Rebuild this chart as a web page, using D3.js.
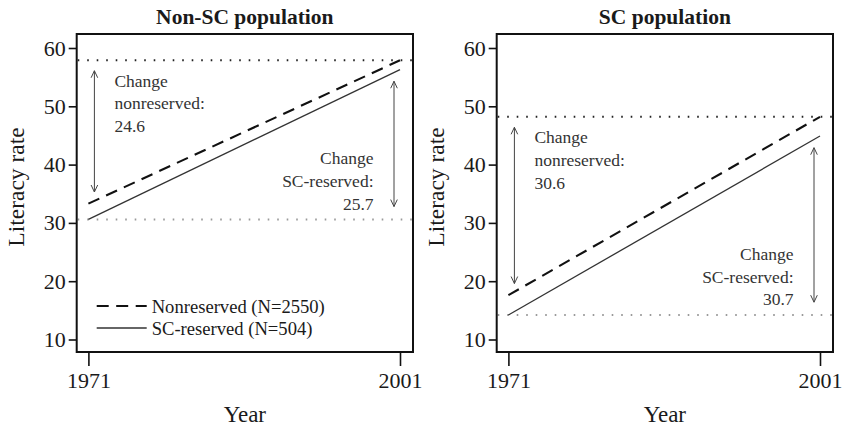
<!DOCTYPE html>
<html>
<head>
<meta charset="utf-8">
<script src="https://cdn.jsdelivr.net/npm/d3@7"></script>
<style>
  html, body { margin: 0; padding: 0; background: #ffffff; }
  svg { display: block; font-family: "Liberation Serif", "DejaVu Serif", serif; }
</style>
</head>
<body>
<svg id="chart" width="846" height="426"></svg>
<script>
// Literacy rate change 1971–2001, by constituency reservation status
const years = [1971, 2001];
const panelTitles = ["Non-SC population", "SC population"];
const nonreserved = [[33.3, 57.9], [17.6, 48.2]];   // per panel: [1971, 2001]
const scReserved  = [[30.6, 56.3], [14.2, 44.9]];
const changeNonreserved = ["24.6", "30.6"];
const changeSCReserved  = ["25.7", "30.7"];
const yTicks = [10, 20, 30, 40, 50, 60];
const xTicks = [1971, 2001];
const legendLabels = ["Nonreserved (N=2550)", "SC-reserved (N=504)"];

const svg = d3.select("#chart");
const frameTop = 34, frameBottom = 352, frameWidth = 336.3;
const frameLefts = [76.7, 496.7];
const ink = "#1a1a1a";

const y = d3.scaleLinear().domain([10, 60]).range([339.5, 48]);

// open "V" arrowhead at (x, y) pointing up (dir=-1) or down (dir=1)
function head(g, x, yy, dir) {
  g.append("path")
    .attr("d", `M${x - 3.3},${yy - dir * 7} L${x},${yy} L${x + 3.3},${yy - dir * 7}`)
    .attr("fill", "none").attr("stroke", "#444").attr("stroke-width", 1);
}

function doubleArrow(g, x, y1, y2) {
  g.append("line").attr("x1", x).attr("x2", x).attr("y1", y1).attr("y2", y2)
    .attr("stroke", "#444").attr("stroke-width", 1);
  head(g, x, y1, -1);
  head(g, x, y2, 1);
}

panelTitles.forEach((title, i) => {
  const left = frameLefts[i], right = left + frameWidth;
  const x = d3.scaleLinear().domain(years).range([left + 11.7, right - 13]);
  const g = svg.append("g");

  // title
  g.append("text").attr("x", (left + right) / 2).attr("y", 24)
    .attr("text-anchor", "middle").attr("font-weight", "bold")
    .attr("font-size", 21.5).attr("fill", ink).text(title);

  // reference levels: nonreserved 2001 and SC-reserved 1971
  g.append("line").attr("x1", left + 1).attr("x2", right - 1)
    .attr("y1", y(nonreserved[i][1])).attr("y2", y(nonreserved[i][1]))
    .attr("stroke", "#222").attr("stroke-width", 2)
    .attr("stroke-dasharray", "1.6,7.9").attr("stroke-linecap", "butt");
  g.append("line").attr("x1", left + 1).attr("x2", right - 1)
    .attr("y1", y(scReserved[i][0])).attr("y2", y(scReserved[i][0]))
    .attr("stroke", "#9a9a9a").attr("stroke-width", 2)
    .attr("stroke-dasharray", "1.6,7.9");

  // series lines
  const line = d3.line().x((d, k) => x(years[k])).y(d => y(d));
  g.append("path").datum(nonreserved[i]).attr("d", line)
    .attr("fill", "none").attr("stroke", "#111").attr("stroke-width", 2.1)
    .attr("stroke-dasharray", "12,7.5");
  g.append("path").datum(scReserved[i]).attr("d", line)
    .attr("fill", "none").attr("stroke", "#333").attr("stroke-width", 1.3);

  // change arrows
  const xa1 = x(years[0]) + 6, xa2 = x(years[1]) - 6;
  doubleArrow(g, xa1, y(nonreserved[i][1] - 1.8), y(nonreserved[i][0] + 2));
  doubleArrow(g, xa2, y(scReserved[i][1] - 2), y(scReserved[i][0] + 2.2));

  // change annotations
  const lh = 22.8;
  const t1 = g.append("text").attr("font-size", 17.5).attr("fill", "#333")
    .attr("text-anchor", "start");
  ["Change", "nonreserved:", changeNonreserved[i]].forEach((s, k) => {
    t1.append("tspan").attr("x", xa1 + 20)
      .attr("y", y(nonreserved[i][1]) + 20.5 + k * lh).attr("dy", "0.33em").text(s);
  });
  const t2 = g.append("text").attr("font-size", 17.5).attr("fill", "#333")
    .attr("text-anchor", "end");
  const lastY = y(scReserved[i][0] + 2.2) - 2.5;
  ["Change", "SC-reserved:", changeSCReserved[i]].forEach((s, k) => {
    t2.append("tspan").attr("x", xa2 - 20.5)
      .attr("y", lastY - (2 - k) * lh).attr("dy", "0.33em").text(s);
  });

  // frame
  g.append("rect").attr("x", left).attr("y", frameTop)
    .attr("width", frameWidth).attr("height", frameBottom - frameTop)
    .attr("fill", "none").attr("stroke", "#111").attr("stroke-width", 2);

  // y axis
  const ya = g.append("g").attr("transform", `translate(${left},0)`)
    .call(d3.axisLeft(y).tickValues(yTicks).tickSize(8).tickPadding(3));
  ya.select(".domain").remove();
  ya.selectAll("line").attr("stroke", "#111").attr("stroke-width", 1.6);
  ya.selectAll("text").attr("font-size", 22).attr("fill", ink)
    .attr("font-family", "Liberation Serif, serif");

  // x axis
  const xa = g.append("g").attr("transform", `translate(0,${frameBottom})`)
    .call(d3.axisBottom(x).tickValues(xTicks).tickFormat(d3.format("d"))
      .tickSize(14).tickPadding(6));
  xa.select(".domain").remove();
  xa.selectAll("line").attr("stroke", "#111").attr("stroke-width", 1.6);
  xa.selectAll("text").attr("font-size", 22).attr("fill", ink)
    .attr("font-family", "Liberation Serif, serif");

  // axis titles
  g.append("text").attr("x", (left + right) / 2).attr("y", 422)
    .attr("text-anchor", "middle").attr("font-size", 23).attr("fill", ink).text("Year");
  g.append("text")
    .attr("transform", `translate(${left - 61},${(frameTop + frameBottom) / 2 - 6}) rotate(-90)`)
    .attr("text-anchor", "middle").attr("dy", "0.35em")
    .attr("font-size", 23.5).attr("fill", ink).text("Literacy rate");

  // legend (first panel only)
  if (i === 0) {
    const lg = g.append("g");
    const styles = [
      { w: 2.1, c: "#111", dash: "12,7.5" },
      { w: 1.3, c: "#333", dash: null }
    ];
    legendLabels.forEach((lab, k) => {
      const ly = 306 + k * 22;
      lg.append("line").attr("x1", left + 20).attr("x2", left + 70)
        .attr("y1", ly).attr("y2", ly)
        .attr("stroke", styles[k].c).attr("stroke-width", styles[k].w)
        .attr("stroke-dasharray", styles[k].dash);
      lg.append("text").attr("x", left + 75).attr("y", ly).attr("dy", "0.35em")
        .attr("font-size", 18.6).attr("fill", ink).text(lab);
    });
  }
});
</script>
</body>
</html>
